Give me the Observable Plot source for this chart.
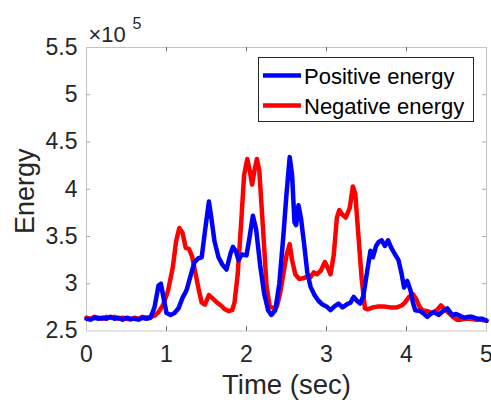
<!DOCTYPE html>
<html>
<head>
<meta charset="utf-8">
<script src="https://cdn.jsdelivr.net/npm/d3@7"></script>
<script src="https://cdn.jsdelivr.net/npm/@observablehq/plot@0.6"></script>
<style>
  html, body { margin: 0; padding: 0; background: white; }
</style>
</head>
<body>
<div id="chart"></div>
<script>
// Tick values
const xTicks = [0, 1, 2, 3, 4, 5];
const yTicks = [2.5, 3, 3.5, 4, 4.5, 5, 5.5];

// Series names
const seriesNames = ["Positive energy", "Negative energy"];

// Positive energy (blue), values in units of 1e5
const tPos = [0,0.05,0.1,0.15,0.2,0.25,0.3,0.35,0.4,0.45,0.5,0.55,0.6,0.65,0.7,0.75,0.8,0.85,0.9,0.93,0.97,1.0,1.05,1.1,1.15,1.2,1.25,1.3,1.35,1.4,1.44,1.48,1.53,1.56,1.6,1.65,1.7,1.75,1.8,1.83,1.87,1.9,1.94,2.0,2.04,2.08,2.12,2.17,2.22,2.27,2.31,2.36,2.41,2.46,2.5,2.54,2.57,2.6,2.62,2.65,2.68,2.72,2.76,2.8,2.85,2.9,2.95,3.0,3.05,3.1,3.15,3.2,3.25,3.3,3.34,3.38,3.42,3.46,3.51,3.55,3.58,3.62,3.65,3.69,3.73,3.77,3.81,3.85,3.9,3.94,3.97,4.01,4.05,4.08,4.11,4.17,4.22,4.26,4.3,4.34,4.4,4.47,4.51,4.57,4.62,4.67,4.72,4.77,4.82,4.88,4.94,5.0];
const ePos = [2.63,2.62,2.64,2.63,2.64,2.63,2.65,2.63,2.64,2.62,2.64,2.63,2.63,2.62,2.64,2.63,2.64,2.75,2.98,3.0,2.82,2.69,2.67,2.69,2.74,2.85,2.93,3.08,3.23,3.27,3.28,3.55,3.87,3.7,3.45,3.28,3.2,3.15,3.32,3.39,3.34,3.25,3.31,3.3,3.5,3.72,3.58,3.2,2.9,2.72,2.67,2.72,3.0,3.5,3.95,4.34,4.15,3.65,3.62,3.83,3.7,3.42,3.12,2.97,2.88,2.82,2.78,2.76,2.72,2.76,2.79,2.75,2.78,2.8,2.86,2.82,2.79,2.87,3.14,3.35,3.28,3.4,3.44,3.46,3.4,3.46,3.38,3.32,3.25,3.1,2.96,3.03,2.93,2.8,2.72,2.71,2.68,2.65,2.68,2.7,2.67,2.72,2.74,2.67,2.68,2.66,2.64,2.65,2.65,2.63,2.63,2.61];

// Negative energy (red), values in units of 1e5
const tNeg = [0,0.05,0.1,0.15,0.2,0.25,0.3,0.35,0.4,0.45,0.5,0.55,0.6,0.65,0.7,0.75,0.8,0.85,0.9,0.96,1.02,1.08,1.12,1.16,1.2,1.24,1.28,1.32,1.36,1.4,1.44,1.48,1.53,1.57,1.62,1.68,1.73,1.78,1.82,1.85,1.89,1.93,1.97,2.01,2.04,2.07,2.1,2.13,2.16,2.19,2.22,2.25,2.29,2.34,2.38,2.42,2.46,2.5,2.54,2.57,2.61,2.66,2.72,2.76,2.8,2.84,2.88,2.93,2.98,3.02,3.05,3.09,3.13,3.16,3.2,3.24,3.29,3.33,3.36,3.4,3.44,3.48,3.52,3.58,3.65,3.72,3.8,3.88,3.94,3.98,4.03,4.08,4.12,4.16,4.2,4.26,4.32,4.38,4.43,4.48,4.53,4.58,4.63,4.68,4.74,4.8,4.86,4.92,5.0];
const eNeg = [2.64,2.63,2.65,2.64,2.63,2.65,2.64,2.65,2.63,2.64,2.63,2.62,2.64,2.63,2.65,2.64,2.65,2.66,2.7,2.78,2.93,3.18,3.45,3.59,3.54,3.38,3.37,3.29,3.12,2.95,2.8,2.78,2.88,2.85,2.81,2.77,2.73,2.71,2.72,2.8,3.1,3.6,4.15,4.32,4.2,4.05,4.2,4.32,4.2,3.8,3.4,2.98,2.76,2.74,2.76,2.9,3.1,3.3,3.42,3.25,3.1,3.05,3.06,3.08,3.07,3.12,3.1,3.14,3.23,3.16,3.1,3.3,3.7,3.78,3.73,3.7,3.8,4.03,3.95,3.5,3.05,2.74,2.73,2.75,2.76,2.76,2.75,2.75,2.77,2.8,2.86,2.89,2.84,2.76,2.72,2.71,2.69,2.72,2.77,2.73,2.69,2.65,2.62,2.62,2.63,2.63,2.62,2.62,2.61];

const posData = tPos.map((t, i) => ({t, e: ePos[i]}));
const negData = tNeg.map((t, i) => ({t, e: eNeg[i]}));

const BLUE = "#0000ff";
const RED = "#ff0000";
const INK = "#262626";
const FONT = "'Liberation Sans', Arial, Helvetica, sans-serif";

const chart = Plot.plot({
  width: 491,
  height: 404,
  marginLeft: 86,
  marginRight: 5,
  marginTop: 47,
  marginBottom: 73.5,
  style: {fontFamily: FONT, color: INK, background: "white", overflow: "visible"},
  x: {domain: [0, 5]},
  y: {domain: [2.5, 5.5]},
  marks: [
    Plot.frame({stroke: "#c4c4c4", strokeWidth: 1}),
    // inward ticks on all four sides
    Plot.ruleX(xTicks.slice(1, -1), {x: d => d, y1: 2.5, y2: 2.545, stroke: "#666"}),
    Plot.ruleX(xTicks.slice(1, -1), {x: d => d, y1: 5.5, y2: 5.455, stroke: "#666"}),
    Plot.ruleY(yTicks.slice(1, -1), {y: d => d, x1: 0, x2: 0.05, stroke: "#aaa"}),
    Plot.ruleY(yTicks.slice(1, -1), {y: d => d, x1: 5, x2: 4.95, stroke: "#aaa"}),
    Plot.axisX(xTicks, {tickSize: 0, tickPadding: 15, fontSize: 23, label: null, tickFormat: d => String(d)}),
    Plot.axisY(yTicks, {tickSize: 0, tickPadding: 9, fontSize: 23, label: null, tickFormat: d => String(d)}),
    Plot.line(negData, {x: "t", y: "e", stroke: RED, strokeWidth: 4.5, strokeLinejoin: "round"}),
    Plot.line(posData, {x: "t", y: "e", stroke: BLUE, strokeWidth: 4.5, strokeLinejoin: "round"}),
    Plot.text(["Energy"], {frameAnchor: "left", dx: -61, dy: 2, rotate: -90, fontSize: 27, textAnchor: "middle", fill: INK}),
    Plot.text(["Time (sec)"], {frameAnchor: "bottom", dy: 54, fontSize: 27.5, textAnchor: "middle", fill: INK, lineAnchor: "middle"}),
    Plot.text(["\u00d710"], {frameAnchor: "top-left", dx: 2, dy: -13, fontSize: 22, textAnchor: "start", lineAnchor: "middle", fill: INK}),
    Plot.text(["5"], {frameAnchor: "top-left", dx: 46, dy: -24, fontSize: 16, textAnchor: "start", lineAnchor: "middle", fill: INK})
  ]
});

// Legend (box with line swatches) inside the plot area, top-right
const svg = d3.select(chart);
const lg = svg.append("g").attr("font-family", FONT).attr("text-anchor", "start");
lg.append("rect")
  .attr("x", 258.5).attr("y", 57.5).attr("width", 215).attr("height", 64)
  .attr("fill", "white").attr("stroke", INK).attr("stroke-width", 1);
const colors = [BLUE, RED];
seriesNames.forEach((name, i) => {
  const cy = 75.5 + i * 30;
  lg.append("line")
    .attr("x1", 263).attr("x2", 301).attr("y1", cy).attr("y2", cy)
    .attr("stroke", colors[i]).attr("stroke-width", 4.5);
  lg.append("text")
    .attr("x", 304).attr("y", cy + 1).attr("dy", "0.35em")
    .attr("text-anchor", "start")
    .attr("font-size", 22).attr("fill", "#000")
    .text(name);
});

document.getElementById("chart").appendChild(chart);
</script>
</body>
</html>
